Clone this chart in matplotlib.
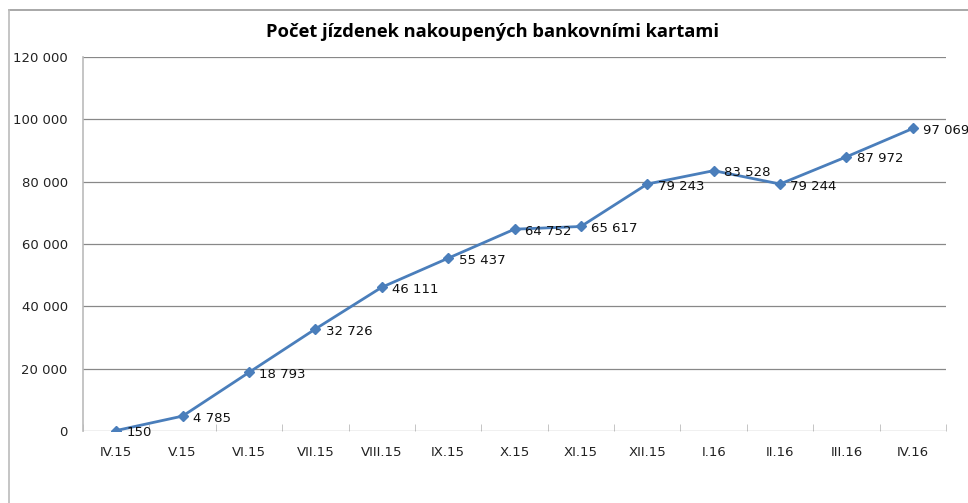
import matplotlib
matplotlib.use("Agg")
from matplotlib import pyplot as plt
from matplotlib.lines import Line2D

months = ['IV.15', 'V.15', 'VI.15', 'VII.15', 'VIII.15', 'IX.15', 'X.15',
          'XI.15', 'XII.15', 'I.16', 'II.16', 'III.16', 'IV.16']
tickets = [150, 4785, 18793, 32726, 46111, 55437, 64752,
           65617, 79243, 83528, 79244, 87972, 97069]
yticks = [0, 20000, 40000, 60000, 80000, 100000, 120000]

plt.rcParams['font.family'] = ['DejaVu Sans']

def fmt(v):
    return f'{v:,}'.replace(',', ' ')

fig = plt.figure(figsize=(9.68, 5.03), dpi=100)
ax = fig.add_axes([83 / 968, 1 - 431 / 503, (946 - 83) / 968, (431 - 57) / 503])

x = list(range(len(months)))
ax.plot(x, tickets, color='#4A7EBB', linewidth=2, marker='D', markersize=5.5, zorder=3)
for xi, v in zip(x, tickets):
    ax.annotate(fmt(v), (xi, v), xytext=(7.5, -1.5), textcoords='offset points',
                ha='left', va='center', fontsize=9.5, color='#111111')

ax.set_xlim(-0.5, len(months) - 0.5)
ax.set_ylim(0, 120000)
ax.set_yticks(yticks)
ax.set_yticklabels([fmt(v) for v in yticks], fontsize=9.5)
ax.set_xticks(x)
ax.set_xticklabels(months, fontsize=9.5)
ax.set_xticks([i - 0.5 for i in range(len(months) + 1)], minor=True)
ax.tick_params(axis='x', which='major', length=0, pad=11)
ax.tick_params(axis='x', which='minor', length=5, color='#BBBBBB', direction='in')
ax.tick_params(axis='y', length=0, pad=11)
ax.grid(True, axis='y', color='#888888', linewidth=0.9)
ax.set_axisbelow(True)
for s in ['top', 'right', 'bottom']:
    ax.spines[s].set_visible(False)
ax.spines['left'].set_color('#BBBBBB')
ax.spines['left'].set_linewidth(1.2)
for lbl in ax.get_yticklabels() + ax.get_xticklabels():
    lbl.set_color('#222222')

fig.text(492 / 968, 1 - 32 / 503, 'Počet jízdenek nakoupených bankovními kartami',
         ha='center', va='center', fontsize=13.2, fontweight='bold',
         family=['Open Sans', 'DejaVu Sans'])

# outer chart border (partly cropped in original)
fig.add_artist(Line2D([9 / 968, 1], [1 - 10 / 503, 1 - 10 / 503],
                      transform=fig.transFigure, color='#999999', linewidth=1.2))
fig.add_artist(Line2D([9 / 968, 9 / 968], [0, 1 - 10 / 503],
                      transform=fig.transFigure, color='#BBBBBB', linewidth=1.2))

fig.savefig('out.png', dpi=100)
